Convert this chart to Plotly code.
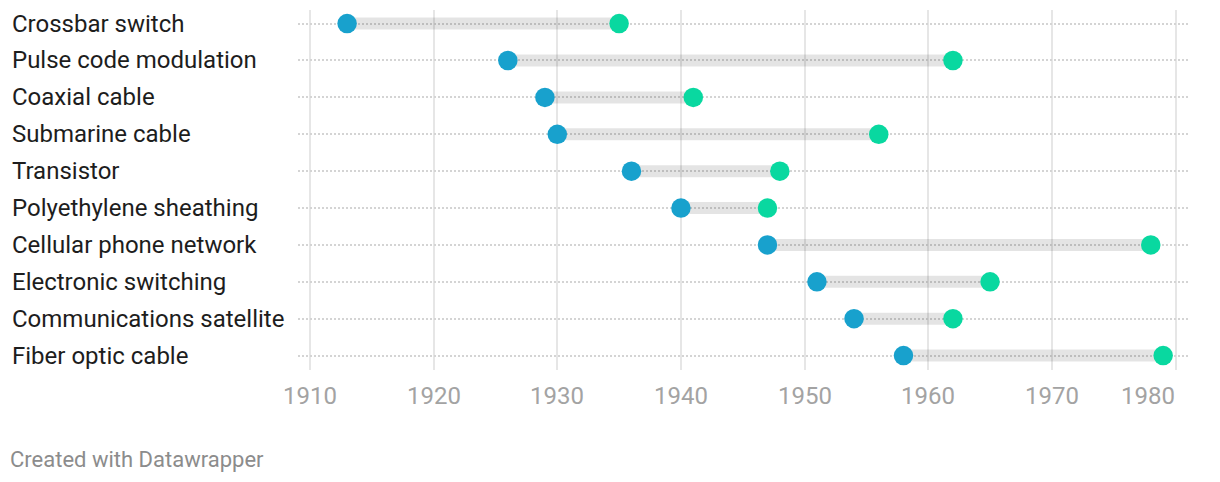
import plotly.graph_objects as go

technologies = ["Crossbar switch", "Pulse code modulation", "Coaxial cable", "Submarine cable",
                "Transistor", "Polyethylene sheathing", "Cellular phone network",
                "Electronic switching", "Communications satellite", "Fiber optic cable"]
invented = [1913, 1926, 1929, 1930, 1936, 1940, 1947, 1951, 1954, 1958]
adopted = [1935, 1962, 1941, 1956, 1948, 1947, 1978, 1965, 1962, 1979]
tick_years = [1910, 1920, 1930, 1940, 1950, 1960, 1970, 1980]

BLUE = "#18a1cd"
GREEN = "#09d8a0"
OFF = 8  # default page body margin
W, H = 1220 - OFF, 482 - OFF
# desired page-pixel geometry
P_LEFT, P_RIGHT, P_TOP, P_BOTTOM = 298, 1188, 10, 370
ML, MT = P_LEFT - OFF, P_TOP - OFF
MR = W - (P_RIGHT - OFF)
MB = H - (P_BOTTOM - OFF)
PW = W - ML - MR
PH = H - MT - MB

rows = list(range(len(technologies)))
ROW0, ROW9 = 23.6, 355.6
row_step = (ROW9 - ROW0) / 9.0

bx, by = [], []
for i, (a, b) in enumerate(zip(invented, adopted)):
    bx += [a, b, None]
    by += [i, i, None]

fig = go.Figure()
fig.add_trace(go.Scatter(x=bx, y=by, mode="lines",
                         line=dict(color="rgba(0,0,0,0.105)", width=12),
                         hoverinfo="skip", showlegend=False))
fig.add_trace(go.Scatter(x=invented, y=rows, mode="markers",
                         marker=dict(color=BLUE, size=19.5, line=dict(width=0)),
                         showlegend=False))
fig.add_trace(go.Scatter(x=adopted, y=rows, mode="markers",
                         marker=dict(color=GREEN, size=19.5, line=dict(width=0)),
                         showlegend=False))

px_per_year = (1175.5 - 310.0) / 70.0
x0 = 1910 - (310.0 - P_LEFT) / px_per_year
x1 = 1910 + (P_RIGHT - 310.0) / px_per_year
fig.update_xaxes(range=[x0, x1], tickvals=tick_years, showticklabels=False,
                 showgrid=True, gridcolor="#e6e6e6", gridwidth=2,
                 zeroline=False, showline=False, fixedrange=True)
y_top = -(ROW0 - P_TOP) / row_step
y_bot = 9 + (P_BOTTOM - ROW9) / row_step
fig.update_yaxes(range=[y_bot, y_top], tickvals=rows, showticklabels=False,
                 showgrid=True, gridcolor="#d4d4d4", gridwidth=1.5, griddash="2px,2px",
                 zeroline=False, showline=False, fixedrange=True)


def py(page_y):
    return 1 - (page_y - OFF - MT) / PH


def px(page_x):
    return (page_x - OFF - ML) / PW


ann = []
for i, name in enumerate(technologies):
    ann.append(dict(text=name, xref="paper", yref="y", x=px(10), y=i,
                    xanchor="left", yanchor="middle", showarrow=False,
                    font=dict(family="Roboto", size=24, color="#1d1d1d")))
for j, t in enumerate(tick_years):
    last = j == len(tick_years) - 1
    ann.append(dict(text=str(t), xref="x", yref="paper", x=t, y=py(396),
                    xanchor="right" if last else "center", yanchor="middle",
                    xshift=1 if last else 0, showarrow=False,
                    font=dict(family="Roboto", size=24, color="#a3a3a3")))
ann.append(dict(text="Created with Datawrapper", xref="paper", yref="paper",
                x=px(8), y=py(459), xanchor="left", yanchor="middle",
                showarrow=False, font=dict(family="Roboto", size=22, color="#8c8c8c")))

fig.update_layout(width=W, height=H, margin=dict(l=ML, r=MR, t=MT, b=MB),
                  plot_bgcolor="white", paper_bgcolor="white", annotations=ann,
                  hovermode="closest")
fig.write_html("out.html", include_plotlyjs=True, config={"displayModeBar": False})
